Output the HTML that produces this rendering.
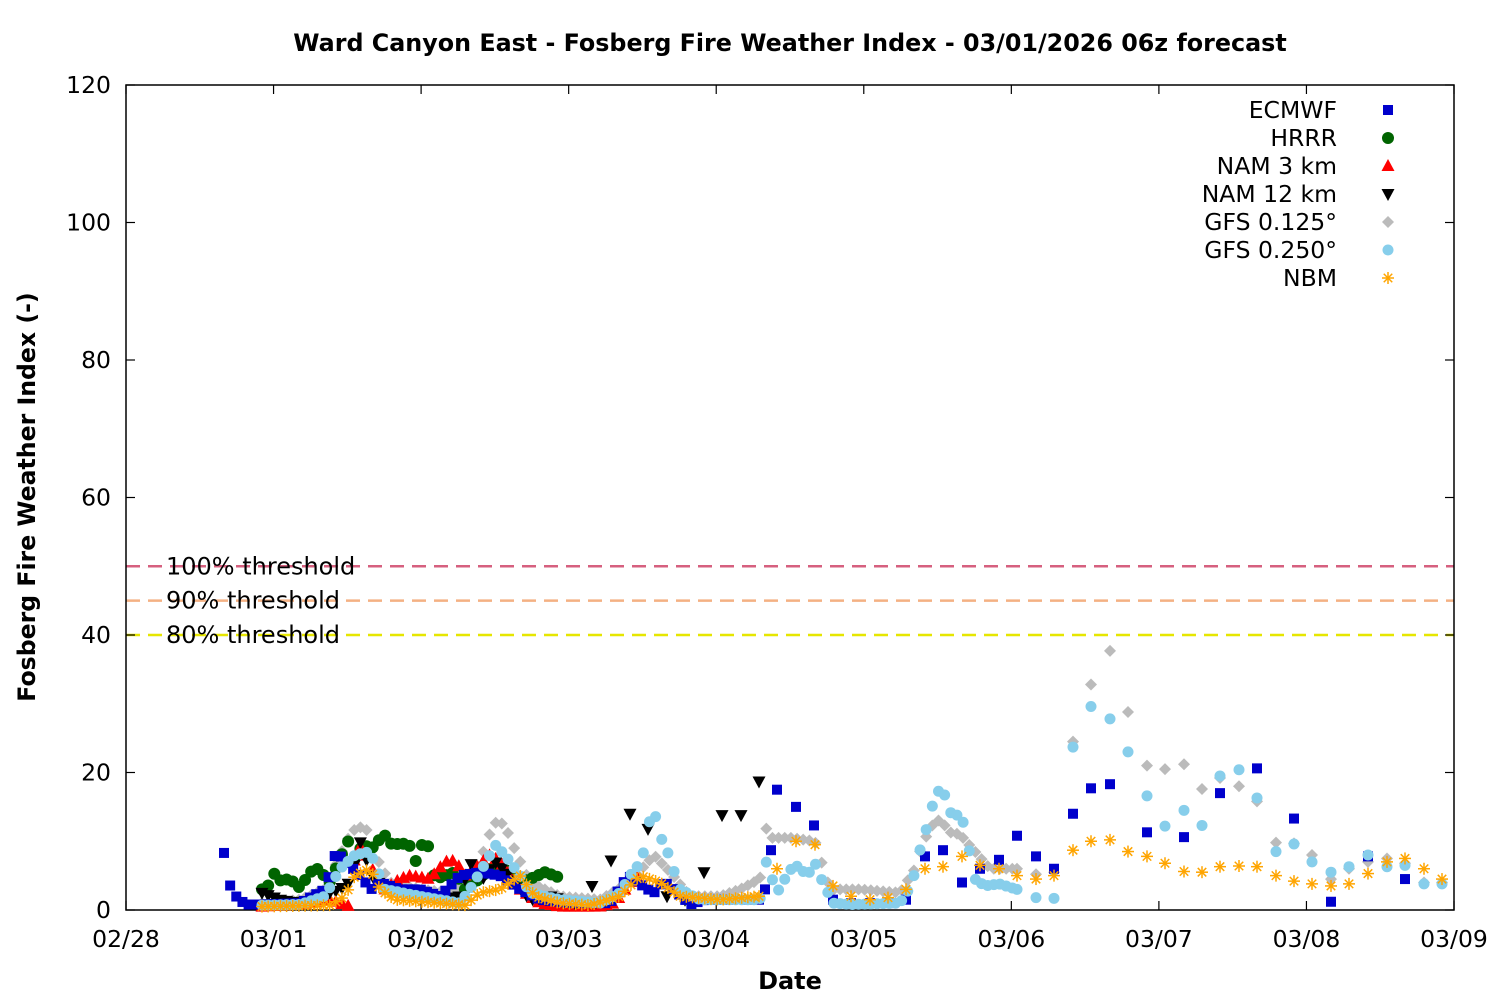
<!DOCTYPE html>
<html><head><meta charset="utf-8"><style>
html,body{margin:0;padding:0;background:#fff}
svg text{font-family:"DejaVu Sans","Liberation Sans",sans-serif}
</style></head><body>
<svg id="s" width="1500" height="1000" xmlns="http://www.w3.org/2000/svg">
<rect width="1500" height="1000" fill="#fff"/>
<text x="790" y="51" font-size="23.8" font-weight="bold" text-anchor="middle">Ward Canyon East - Fosberg Fire Weather Index - 03/01/2026 06z forecast</text>
<text x="790" y="989" font-size="24" font-weight="bold" text-anchor="middle">Date</text>
<text transform="translate(35,497) rotate(-90)" font-size="23.6" font-weight="bold" text-anchor="middle">Fosberg Fire Weather Index (-)</text>
<g id="ax"></g>
<g id="pts"></g>
</svg>
<script>
const NS="http://www.w3.org/2000/svg";
const ax=document.getElementById('ax'),pg=document.getElementById('pts');
function el(p,tag,a,txt){const e=document.createElementNS(NS,tag);for(const k in a)e.setAttribute(k,a[k]);if(txt!=null)e.textContent=txt;p.appendChild(e);return e;}
const X0=126,X1=1454,Y0=910,Y1=85,K=825/120;
const Y=v=>Y0-v*K;
const FS=23.5;
[[50,'#d6607f','100% threshold'],[45,'#f4b183','90% threshold'],[40,'#e6e600','80% threshold']].forEach(t=>{
 el(ax,'line',{x1:X0,x2:X1,y1:Y(t[0]),y2:Y(t[0]),stroke:t[1],'stroke-width':2.5,'stroke-dasharray':'14,8'});
 el(ax,'text',{x:166,y:Y(t[0])+8,'font-size':24},t[2]);
});
el(ax,'rect',{x:X0,y:Y1,width:X1-X0,height:Y0-Y1,fill:'none',stroke:'#000','stroke-width':1.5});
for(let v=0;v<=120;v+=20){const y=Y(v);
 el(ax,'line',{x1:X0,x2:X0+9,y1:y,y2:y,stroke:'#000','stroke-width':1.2});
 el(ax,'line',{x1:X1,x2:X1-9,y1:y,y2:y,stroke:'#000','stroke-width':1.2});
 el(ax,'text',{x:111,y:y+8,'font-size':FS,'text-anchor':'end'},v);}
const days=['02/28','03/01','03/02','03/03','03/04','03/05','03/06','03/07','03/08','03/09'];
days.forEach((d,i)=>{const x=X0+i*(X1-X0)/9;
 el(ax,'line',{x1:x,x2:x,y1:Y0,y2:Y0-9,stroke:'#000','stroke-width':1.2});
 el(ax,'line',{x1:x,x2:x,y1:Y1,y2:Y1+9,stroke:'#000','stroke-width':1.2});
 el(ax,'text',{x:x,y:947,'font-size':FS,'text-anchor':'middle'},d);});
function mk(type,x,y){
 switch(type){
 case 'sq':el(pg,'rect',{x:x-5,y:y-5,width:10,height:10,fill:'#0000cc'});break;
 case 'ci':el(pg,'circle',{cx:x,cy:y,r:6,fill:'#006400'});break;
 case 'up':el(pg,'polygon',{points:`${x},${y-7} ${x-6.5},${y+5} ${x+6.5},${y+5}`,fill:'#ff0000'});break;
 case 'dn':el(pg,'polygon',{points:`${x},${y+7} ${x-6.5},${y-5} ${x+6.5},${y-5}`,fill:'#000'});break;
 case 'di':el(pg,'polygon',{points:`${x},${y-6} ${x+6},${y} ${x},${y+6} ${x-6},${y}`,fill:'#bbbbbb'});break;
 case 'hx':el(pg,'circle',{cx:x,cy:y,r:5.5,fill:'#87ceeb'});break;
 case 'st':{const g=el(pg,'g',{stroke:'#ffa500','stroke-width':1.5});
  for(let a=0;a<4;a++){const t=a*Math.PI/4;el(g,'line',{x1:x-6*Math.cos(t),y1:y-6*Math.sin(t),x2:x+6*Math.cos(t),y2:y+6*Math.sin(t)});}}break;
 }}
function interp(k,x){for(let i=0;i<k.length-1;i++){if(x>=k[i][0]&&x<=k[i+1][0]){const f=(x-k[i][0])/(k[i+1][0]-k[i][0]||1);return k[i][1]+f*(k[i+1][1]-k[i][1]);}}return null;}
// dense interpolation with step up to xs, then explicit keypoints from xs on
function series(type,k,step,xs){
 for(let x=k[0][0];x<xs-0.5&&x<=k[k.length-1][0];x+=step){const v=interp(k,x);if(v!=null)mk(type,x,Y(v));}
 k.forEach(p=>{if(p[0]>=xs)mk(type,p[0],Y(p[1]));});}
const H=6.15;
series('di',[[262,1],[300,1.5],[325,3],[340,8],[352,11.5],[365,12.3],[375,8],[390,4],[420,3],[450,2.5],[470,4],[485,9],[493,12.5],[500,13],[508,11.2],[515,8.7],[530,4],[560,2],[600,1.5],[630,4],[654,8],[670,5.5],[690,2],[720,2],[740,3],[760,4.5],[765,12.2],[771,10.5],[790,10.5],[815,10],[830,3],[860,3],[900,2.5],[915,6],[920,8.5],[930,12],[940,13.2],[950,11.3],[960,11],[975,8.5],[990,6],[1017,6],[1036,5.2],[1054,5.5],[1073,24.5],[1091,32.8],[1110,37.7],[1128,28.8],[1147,21],[1165,20.5],[1184,21.2],[1202,17.6],[1220,19.2],[1239,18],[1257,15.8],[1276,9.8],[1294,9.7],[1312,8],[1331,4.5],[1349,6],[1368,7],[1387,7.5],[1405,6.8],[1424,4],[1442,4]],H,1017);
series('ci',[[262,3],[268,3.5],[273,5.5],[280,4.3],[290,4.5],[300,3.2],[310,5.5],[318,6],[330,4],[340,7.5],[348,10],[355,7],[362,9.5],[372,9],[384,11],[392,9.5],[402,9.7],[410,9.3],[415,6.7],[420,9.5],[428,9.3],[435,4.5],[445,5],[455,5.5],[465,3],[475,4],[490,6],[500,6.5],[510,5.5],[520,4],[530,4.5],[545,5.5],[558,4.8]],H,9999);
series('up',[[262,0.5],[300,0.8],[330,1.5],[340,1],[348,0.5],[355,8],[362,9.5],[372,6],[385,3],[400,4.5],[410,5],[430,4.5],[445,7],[455,7.2],[465,5],[475,6],[490,8],[500,7],[510,5],[520,3],[540,1],[560,0.5],[600,0.5],[615,1],[630,4],[640,5]],H,9999);
series('dn',[[262,2.5],[280,1.5],[300,1],[320,2],[340,3],[350,4],[360,10],[372,5],[385,3],[400,2.5],[420,2],[440,1.5],[460,2],[470,7],[480,4],[495,7],[510,5],[530,1.5],[550,2],[575,1],[592,3.5],[611,7.2],[630,14],[648,11.8],[667,2],[685,1.5],[704,5.5],[722,13.8],[741,13.8],[759,18.7]],H,560);
series('sq',[[224,8.3],[230,3.6],[236,2],[242,1.2],[248,0.8],[262,0.8],[300,1],[325,3],[336,8.5],[346,7],[360,5],[371,3],[380,4],[400,3],[420,3],[440,2],[460,5],[480,5.5],[500,5],[520,3],[540,1.5],[570,1],[610,1],[628,5],[648,3],[654,2.5],[661,3.8],[667,3.8],[685,1.5],[690,0.8],[705,1.5],[728,1.5],[747,1.5],[759,1.5],[765,3],[771,8.7],[777,17.5],[796,15],[814,12.3],[833,1.5],[851,1],[870,1],[888,1],[906,1.5],[925,7.8],[943,8.7],[962,4],[980,6],[999,7.3],[1017,10.8],[1036,7.8],[1054,6],[1073,14],[1091,17.7],[1110,18.3],[1147,11.3],[1184,10.6],[1220,17],[1257,20.6],[1294,13.3],[1331,1.2],[1368,7.8],[1405,4.5]],H,728);
series('hx',[[262,0.7],[300,0.8],[325,2],[340,6],[355,8],[370,8.5],[385,3],[420,2],[460,1],[470,3],[490,8],[495,9.5],[505,8],[520,5],[530,2.5],[560,1.5],[600,1],[620,2.5],[630,5],[642,7.2],[648,12.3],[654,14.5],[661,10.5],[667,8.7],[680,3],[700,1.5],[760,1.5],[765,7.5],[777,2.5],[790,5.8],[796,6.5],[808,5],[814,7.2],[822,4.3],[833,1],[851,0.8],[900,1],[912,3.7],[918,7.8],[925,11],[931,14.5],[937,17.2],[943,17.5],[950,14.2],[962,13.5],[968,9.5],[975,4.5],[985,3.5],[999,3.8],[1017,3],[1036,1.8],[1054,1.7],[1073,23.7],[1091,29.6],[1110,27.8],[1128,23],[1147,16.6],[1165,12.2],[1184,14.5],[1202,12.3],[1220,19.5],[1239,20.4],[1257,16.3],[1276,8.5],[1294,9.6],[1312,7],[1331,5.5],[1349,6.3],[1368,8],[1387,6.3],[1405,6.5],[1424,3.8],[1442,3.8]],H,1017);
series('st',[[262,0.5],[330,0.7],[345,2],[355,5],[370,6],[380,3],[395,1.5],[440,1],[465,0.7],[480,2.5],[500,3],[520,5],[535,2],[560,1],[590,0.7],[620,2],[640,5],[660,4],[680,2],[720,1.5],[759,2],[777,6],[796,10],[815,9.5],[833,3.5],[851,2],[870,1.5],[888,1.8],[906,3],[925,6],[943,6.3],[962,7.8],[980,6.5],[999,6],[1017,5],[1036,4.5],[1054,5],[1073,8.7],[1091,10],[1110,10.2],[1128,8.5],[1147,7.8],[1165,6.8],[1184,5.6],[1202,5.5],[1220,6.3],[1239,6.4],[1257,6.3],[1276,5],[1294,4.2],[1312,3.8],[1331,3.5],[1349,3.8],[1368,5.3],[1387,7],[1405,7.5],[1424,6],[1442,4.5]],H,759);
[['ECMWF','sq'],['HRRR','ci'],['NAM 3 km','up'],['NAM 12 km','dn'],['GFS 0.125°','di'],['GFS 0.250°','hx'],['NBM','st']].forEach((l,i)=>{const y=110+i*28;
 el(ax,'text',{x:1337,y:y+8,'font-size':FS,'text-anchor':'end'},l[0]);mk(l[1],1388,y);});
</script>
</body></html>
